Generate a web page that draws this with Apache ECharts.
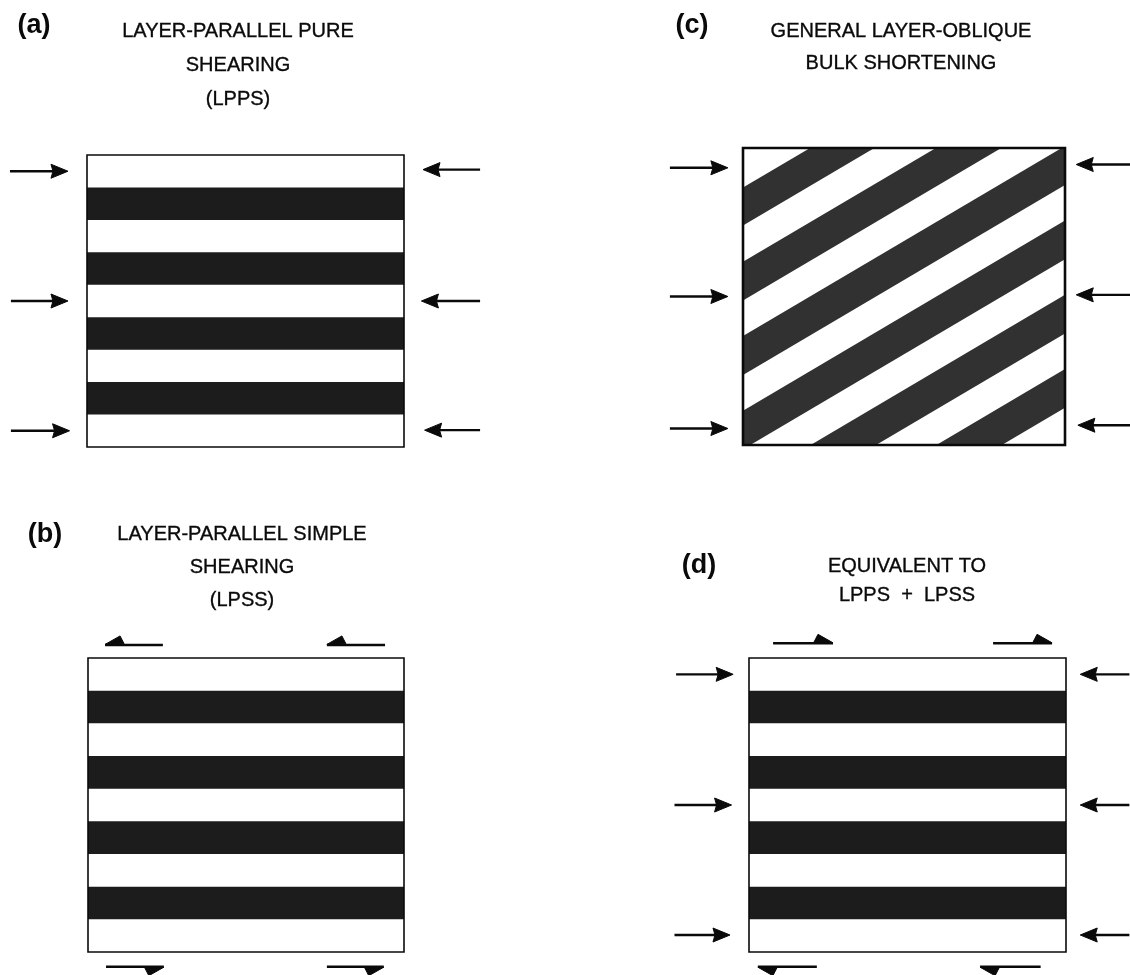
<!DOCTYPE html>
<html>
<head>
<meta charset="utf-8">
<script src="https://cdn.jsdelivr.net/npm/echarts@6/dist/echarts.min.js"></script>
<style>
  html, body { margin: 0; padding: 0; background: #ffffff; }
  #chart { width: 1130px; height: 975px; }
</style>
</head>
<body>
<div id="chart"></div>
<script>
// Each block spans 10 units across and 9 layer thicknesses up.
const FRAME_X = [0, 10];
const FRAME_Y = [0, 9];

// Shaded (competent) layers of the horizontal stacks, [bottom, top] in layer units.
const shadedLayers = [[1, 2], [3, 4], [5, 6], [7, 8]];

// Oblique layers of block (c): lower / upper boundary heights on the left edge.
const obliqueLower = [6.65, 4.38, 2.12, -0.13, -2.38, -4.63];
const obliqueUpper = [7.80, 5.55, 3.30, 1.04, -1.21, -3.46];
const obliqueSlope = 0.576;

// Arrow heads: full triangle, half barb above the shaft, half barb below it.
const FULL = 0, BARB_UP = 1, BARB_DOWN = -1;

// Arrows as [fromX, fromY, toX, toY, head] in each block's units.
const arrowsA = [
  [-2.43, 8.5, -0.6, 8.5, FULL], [-2.4, 4.5, -0.6, 4.5, FULL], [-2.4, 0.5, -0.55, 0.5, FULL],
  [12.4, 8.55, 10.6, 8.55, FULL], [12.4, 4.5, 10.55, 4.5, FULL], [12.4, 0.52, 10.65, 0.52, FULL]
];
const arrowsB = [
  [2.37, 9.4, 0.54, 9.4, BARB_UP], [9.4, 9.4, 7.56, 9.4, BARB_UP],
  [0.57, -0.45, 2.4, -0.45, BARB_DOWN], [7.56, -0.45, 9.36, -0.45, BARB_DOWN]
];
const arrowsC = [
  [-2.27, 8.4, -0.47, 8.4, FULL], [-2.27, 4.5, -0.47, 4.5, FULL], [-2.27, 0.5, -0.47, 0.5, FULL],
  [12.1, 8.5, 10.35, 8.5, FULL], [12.1, 4.55, 10.35, 4.55, FULL], [12.1, 0.6, 10.4, 0.6, FULL]
];
const arrowsD = [
  [-2.3, 8.5, -0.5, 8.5, FULL], [-2.35, 4.5, -0.55, 4.5, FULL], [-2.35, 0.52, -0.6, 0.52, FULL],
  [12.0, 8.5, 10.45, 8.5, FULL], [12.0, 4.5, 10.45, 4.5, FULL], [12.0, 0.52, 10.45, 0.52, FULL],
  [0.76, 9.45, 2.65, 9.45, BARB_UP], [7.7, 9.45, 9.56, 9.45, BARB_UP],
  [2.14, -0.45, 0.28, -0.45, BARB_DOWN], [9.2, -0.45, 7.29, -0.45, BARB_DOWN]
];

// Block letters and their headings.
const blockLetters = ['(a)', '(b)', '(c)', '(d)'];
const blockHeadings = [
  ['LAYER-PARALLEL PURE', 'SHEARING', '(LPPS)'],
  ['LAYER-PARALLEL SIMPLE', 'SHEARING', '(LPSS)'],
  ['GENERAL LAYER-OBLIQUE', 'BULK SHORTENING'],
  ['EQUIVALENT TO', 'LPPS  +  LPSS']
];

const INK = '#0a0a0a';
const LAYER_FILL = '#1c1c1c';
const OBLIQUE_FILL = '#313131';
const FONT = '"Liberation Sans", Arial, Helvetica, sans-serif';

const grids = [
  { left: 87, top: 155, width: 317, height: 292 },   // (a)
  { left: 88, top: 658, width: 316, height: 294 },   // (b)
  { left: 743, top: 148, width: 322, height: 297 },  // (c)
  { left: 749, top: 658, width: 317, height: 294 }   // (d)
];

function layerItem(params, api) {
  const tl = api.coord([FRAME_X[0], api.value(1)]);
  const br = api.coord([FRAME_X[1], api.value(0)]);
  return {
    type: 'rect',
    shape: { x: tl[0], y: tl[1], width: br[0] - tl[0], height: br[1] - tl[1] },
    style: { fill: LAYER_FILL }
  };
}

function obliqueItem(params, api) {
  const lo = api.value(0), up = api.value(1);
  const xa = FRAME_X[0] - 1, xb = FRAME_X[1] + 1;
  const pts = [
    [xa, lo + obliqueSlope * xa], [xb, lo + obliqueSlope * xb],
    [xb, up + obliqueSlope * xb], [xa, up + obliqueSlope * xa]
  ].map(p => api.coord(p));
  return { type: 'polygon', shape: { points: pts }, style: { fill: OBLIQUE_FILL } };
}

function frameItem(lineWidth) {
  return function (params, api) {
    const tl = api.coord([FRAME_X[0], FRAME_Y[1]]);
    const br = api.coord([FRAME_X[1], FRAME_Y[0]]);
    return {
      type: 'rect',
      shape: { x: tl[0], y: tl[1], width: br[0] - tl[0], height: br[1] - tl[1] },
      style: { fill: null, stroke: INK, lineWidth: lineWidth }
    };
  };
}

function arrowItem(params, api) {
  const p1 = api.coord([api.value(0), api.value(1)]);
  const p2 = api.coord([api.value(2), api.value(3)]);
  const head = api.value(4);
  const dx = p2[0] - p1[0], dy = p2[1] - p1[1];
  const len = Math.hypot(dx, dy);
  const ux = dx / len, uy = dy / len;
  let headShape, shaftEnd;
  if (head === FULL) {
    const L = 17, W = 7;
    const back = [p2[0] - ux * L, p2[1] - uy * L];
    headShape = [p2, [back[0], back[1] - W], [back[0] + ux * 2, back[1]], [back[0], back[1] + W]];
    shaftEnd = [back[0] + ux * 3, back[1]];
  } else {
    const side = head === BARB_UP ? -1 : 1;
    headShape = [
      [p2[0], p2[1] + side * 0.5],
      [p2[0] - ux * 15, p2[1] + side * 9],
      [p2[0] - ux * 19, p2[1] + side * 1.2]
    ];
    shaftEnd = p2;
  }
  return {
    type: 'group',
    children: [
      { type: 'line', shape: { x1: p1[0], y1: p1[1], x2: shaftEnd[0], y2: shaftEnd[1] },
        style: { stroke: INK, lineWidth: 2.4 } },
      { type: 'polygon', shape: { points: headShape },
        style: { fill: INK, stroke: INK, lineWidth: 1, lineJoin: 'miter' } }
    ]
  };
}

const series = [];
const panelArrows = [arrowsA, arrowsB, arrowsC, arrowsD];
grids.forEach((g, i) => {
  if (i === 2) {
    series.push({
      type: 'custom', xAxisIndex: i, yAxisIndex: i, clip: true, silent: true, z: 2,
      renderItem: obliqueItem,
      data: obliqueLower.map((lo, k) => [lo, obliqueUpper[k]])
    });
  } else {
    series.push({
      type: 'custom', xAxisIndex: i, yAxisIndex: i, clip: true, silent: true, z: 2,
      renderItem: layerItem,
      data: shadedLayers
    });
  }
  series.push({
    type: 'custom', xAxisIndex: i, yAxisIndex: i, silent: true, z: 3,
    renderItem: frameItem(i === 2 ? 2.6 : 1.6),
    data: [[FRAME_X[0], FRAME_Y[0]]]
  });
  series.push({
    type: 'custom', xAxisIndex: i, yAxisIndex: i, silent: true, z: 4,
    renderItem: arrowItem,
    data: panelArrows[i]
  });
});

// Text anchors for letters and headings.
const letterPos = [[34, 26], [45, 535], [692, 26], [699, 566]];
const headingPos = [[238, 31], [242, 534], [901, 31], [907, 566]];
const headingLine = [34, 33, 32, 29];

const graphic = [];
blockLetters.forEach((t, i) => {
  graphic.push({
    type: 'text', x: letterPos[i][0], y: letterPos[i][1],
    style: { text: t, fill: INK, font: 'bold 27px ' + FONT, align: 'center', verticalAlign: 'middle' }
  });
});
blockHeadings.forEach((lines, i) => {
  lines.forEach((t, k) => {
    graphic.push({
      type: 'text', x: headingPos[i][0], y: headingPos[i][1] + k * headingLine[i],
      style: { text: t, fill: INK, stroke: INK, lineWidth: 0.35, font: '20px ' + FONT,
               align: 'center', verticalAlign: 'middle' }
    });
  });
});

const chart = echarts.init(document.getElementById('chart'), null, { renderer: 'canvas' });
chart.setOption({
  backgroundColor: '#ffffff',
  animation: false,
  grid: grids.map(g => Object.assign({ show: false }, g)),
  xAxis: grids.map((g, i) => ({ type: 'value', gridIndex: i, min: FRAME_X[0], max: FRAME_X[1], show: false })),
  yAxis: grids.map((g, i) => ({ type: 'value', gridIndex: i, min: FRAME_Y[0], max: FRAME_Y[1], show: false })),
  graphic: graphic,
  series: series
});
</script>
</body>
</html>
